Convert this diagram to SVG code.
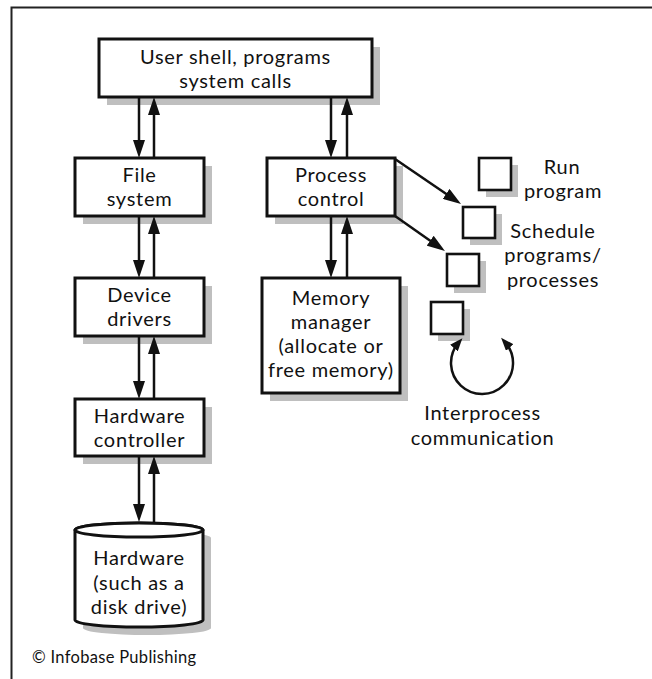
<svg xmlns="http://www.w3.org/2000/svg" width="652" height="679" viewBox="0 0 652 679">
<style>
text{font-family:Lato,"Noto Sans","DejaVu Sans",sans-serif;font-size:20px;letter-spacing:0.7px;fill:#111;text-anchor:middle}
.box{fill:#fff;stroke:#111;stroke-width:3}
.sq{fill:#fff;stroke:#111;stroke-width:2.6}
.sh{fill:#bfbfbf;stroke:none}
.c{fill:none;stroke:#111;stroke-width:2.5}
.frame{fill:none;stroke:#222;stroke-width:2}
</style>
<defs>
<marker id="ah" markerUnits="userSpaceOnUse" markerWidth="18" markerHeight="12" refX="10" refY="6" orient="auto" viewBox="0 0 18 12">
<path d="M0,0 L18,6 L0,12 Z" fill="#111"/>
</marker>
<marker id="ahs" markerUnits="userSpaceOnUse" markerWidth="13" markerHeight="10" refX="7" refY="5" orient="auto-start-reverse" viewBox="0 0 13 10">
<path d="M0,0 L13,5 L0,10 Z" fill="#111"/>
</marker>
</defs>
<path class="frame" d="M11.5,679 L11.5,7.5 L652,7.5"/>

<g id="user-shell">
<rect class="sh" x="107" y="47" width="273" height="58"/>
<rect class="box" x="99" y="39" width="273" height="58"/>
<text x="235.5" y="64">User shell, programs</text>
<text x="235.5" y="88">system calls</text>
</g>

<g id="file-system">
<rect class="sh" x="83" y="166" width="129" height="58"/>
<rect class="box" x="75" y="158" width="129" height="58"/>
<text x="139.5" y="182">File</text>
<text x="139.5" y="206">system</text>
</g>

<g id="process-control">
<rect class="sh" x="275" y="166" width="128" height="58"/>
<rect class="box" x="267" y="158" width="128" height="58"/>
<text x="331" y="182">Process</text>
<text x="331" y="206">control</text>
</g>

<g id="device-drivers">
<rect class="sh" x="83" y="286" width="129" height="58"/>
<rect class="box" x="75" y="278" width="129" height="58"/>
<text x="139.5" y="302">Device</text>
<text x="139.5" y="326">drivers</text>
</g>

<g id="memory-manager">
<rect class="sh" x="270" y="286" width="138" height="115"/>
<rect class="box" x="262" y="278" width="138" height="115"/>
<text x="331" y="305">Memory</text>
<text x="331" y="329">manager</text>
<text x="331" y="353">(allocate or</text>
<text x="331" y="377">free memory)</text>
</g>

<g id="hardware-controller">
<rect class="sh" x="83" y="407" width="129" height="57"/>
<rect class="box" x="75" y="399" width="129" height="57"/>
<text x="139.5" y="423">Hardware</text>
<text x="139.5" y="447">controller</text>
</g>

<g id="hardware">
<path class="sh" d="M83,538 L83,628 A64,7 0 0,0 211,628 L211,538 A64,7 0 0,0 83,538 Z"/>
<path class="box" d="M75,530 L75,620 A64,7 0 0,0 203,620 L203,530 A64,7 0 0,0 75,530 Z"/>
<ellipse class="box" cx="139" cy="530" rx="64" ry="7"/>
<text x="139" y="565">Hardware</text>
<text x="139" y="589.5">(such as a</text>
<text x="139" y="614">disk drive)</text>
</g>

<g id="run-program">
<rect class="sh" x="486" y="165" width="32" height="32"/>
<rect class="sq" x="479" y="158" width="32" height="32"/>
<text x="562" y="174">Run</text>
<text x="563" y="198">program</text>
</g>

<g id="schedule">
<rect class="sh" x="470" y="214" width="32" height="31"/>
<rect class="sq" x="463" y="207" width="32" height="31"/>
<text x="553" y="238">Schedule</text>
<text x="553" y="262">programs/</text>
<text x="553" y="287">processes</text>
</g>

<g id="process-box-3">
<rect class="sh" x="454" y="261" width="32" height="32"/>
<rect class="sq" x="447" y="254" width="32" height="32"/>
</g>

<g id="interprocess">
<rect class="sh" x="438" y="309" width="32" height="32"/>
<rect class="sq" x="431" y="302" width="32" height="32"/>
<text x="482.5" y="420">Interprocess</text>
<text x="482.5" y="445">communication</text>
</g>

<g id="connectors">
<line class="c" x1="139" y1="97" x2="139" y2="150" marker-end="url(#ah)"/>
<line class="c" x1="154" y1="158" x2="154" y2="105" marker-end="url(#ah)"/>
<line class="c" x1="331" y1="97" x2="331" y2="150" marker-end="url(#ah)"/>
<line class="c" x1="347" y1="158" x2="347" y2="105" marker-end="url(#ah)"/>
<line class="c" x1="139" y1="216" x2="139" y2="270" marker-end="url(#ah)"/>
<line class="c" x1="154" y1="278" x2="154" y2="224" marker-end="url(#ah)"/>
<line class="c" x1="331" y1="216" x2="331" y2="270" marker-end="url(#ah)"/>
<line class="c" x1="347" y1="278" x2="347" y2="224" marker-end="url(#ah)"/>
<line class="c" x1="139" y1="336" x2="139" y2="391" marker-end="url(#ah)"/>
<line class="c" x1="154" y1="399" x2="154" y2="344" marker-end="url(#ah)"/>
<line class="c" x1="139" y1="456" x2="139" y2="514" marker-end="url(#ah)"/>
<line class="c" x1="154" y1="523" x2="154" y2="464" marker-end="url(#ah)"/>
<line class="c" x1="395" y1="159" x2="454.4" y2="199.5" marker-end="url(#ah)"/>
<line class="c" x1="395" y1="216" x2="438.4" y2="246.4" marker-end="url(#ah)"/>
<path class="c" d="M458.5,342.8 A31,31 0 1,0 505.1,342.3" marker-start="url(#ahs)" marker-end="url(#ahs)"/>
</g>

<text x="32" y="663" style="font-size:16.5px;letter-spacing:0.3px;text-anchor:start">© Infobase Publishing</text>
</svg>
